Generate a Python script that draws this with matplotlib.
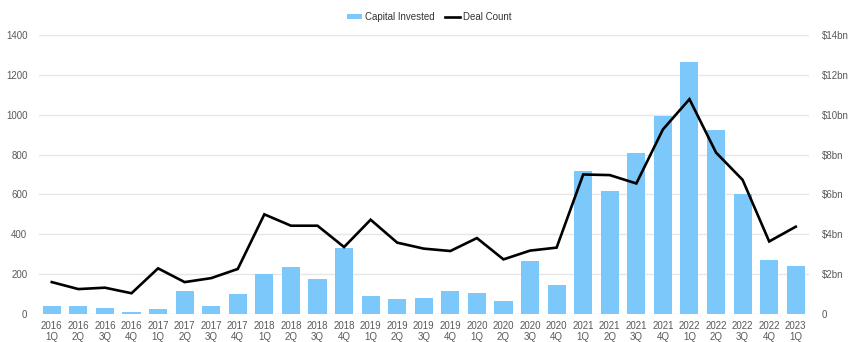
import matplotlib
matplotlib.use("Agg")
import matplotlib.pyplot as plt
import numpy as np

plt.rcParams['font.family'] = ['Liberation Sans', 'DejaVu Sans']

quarters = [
    "2016\n1Q", "2016\n2Q", "2016\n3Q", "2016\n4Q",
    "2017\n1Q", "2017\n2Q", "2017\n3Q", "2017\n4Q",
    "2018\n1Q", "2018\n2Q", "2018\n3Q", "2018\n4Q",
    "2019\n1Q", "2019\n2Q", "2019\n3Q", "2019\n4Q",
    "2020\n1Q", "2020\n2Q", "2020\n3Q", "2020\n4Q",
    "2021\n1Q", "2021\n2Q", "2021\n3Q", "2021\n4Q",
    "2022\n1Q", "2022\n2Q", "2022\n3Q", "2022\n4Q",
    "2023\n1Q",
]

# Capital invested, $bn per quarter
capital_bn = [
    0.38, 0.38, 0.32, 0.10,
    0.25, 1.17, 0.38, 1.02,
    2.02, 2.36, 1.74, 3.30,
    0.90, 0.77, 0.79, 1.14,
    1.07, 0.67, 2.66, 1.45,
    7.18, 6.17, 8.08, 9.91,
    12.65, 9.24, 6.00, 2.72,
    2.41,
]

# Number of deals per quarter
deal_count = [
    160, 125, 132, 104,
    229, 160, 180, 226,
    500, 443, 443, 336,
    473, 358, 328, 316,
    381, 274, 318, 333,
    700, 697, 655, 926,
    1078, 810, 673, 364,
    438,
]

left_ticks = [0, 200, 400, 600, 800, 1000, 1200, 1400]
right_ticks = [0, 2, 4, 6, 8, 10, 12, 14]
right_labels = ["0", "$2bn", "$4bn", "$6bn", "$8bn", "$10bn", "$12bn", "$14bn"]

bar_color = "#7CC8FA"
text_color = "#595959"
grid_color = "#E6E6E6"

fig = plt.figure(figsize=(8.5, 3.42), dpi=100)
ax = fig.add_axes([0.0453, 0.0819, 0.9065, 0.8158])
x = np.arange(len(quarters))

bars = ax.bar(x, capital_bn, width=0.68, color=bar_color, zorder=2,
              label="Capital Invested")
ax.set_ylim(0, 14)
ax.set_xlim(-0.5, len(quarters) - 0.5)
ax.set_xticks(x)
ax.set_xticklabels(quarters, linespacing=1.1)
ax.grid(axis="y", color=grid_color, linewidth=1.0, zorder=0)
ax.set_axisbelow(True)

ax2 = ax.twinx()
line, = ax2.plot(x, deal_count, color="black", linewidth=1.9, zorder=3,
                 label="Deal Count", solid_joinstyle="miter")
ax2.set_ylim(0, 1400)

# Capital ($bn) scale on the right, deal count on the left
ax.yaxis.tick_right()
ax.yaxis.set_label_position("right")
ax.set_yticks(right_ticks)
ax.set_yticklabels(right_labels)
ax2.yaxis.tick_left()
ax2.yaxis.set_label_position("left")
ax2.set_yticks(left_ticks)

for a in (ax, ax2):
    for s in a.spines.values():
        s.set_visible(False)
    a.tick_params(axis="both", length=0, labelsize=7, colors=text_color)
ax.tick_params(axis="y", pad=9)
ax2.tick_params(axis="y", pad=8)
ax.tick_params(axis="x", pad=5)

fig.legend([bars, line], ["Capital Invested", "Deal Count"],
           loc="center", bbox_to_anchor=(0.505, 0.95), ncol=2, frameon=False,
           fontsize=7, handlelength=1.6, handleheight=0.5, handletextpad=0.3,
           columnspacing=1.0, labelcolor="#333333")

fig.savefig("out.png", dpi=100, facecolor="white")
